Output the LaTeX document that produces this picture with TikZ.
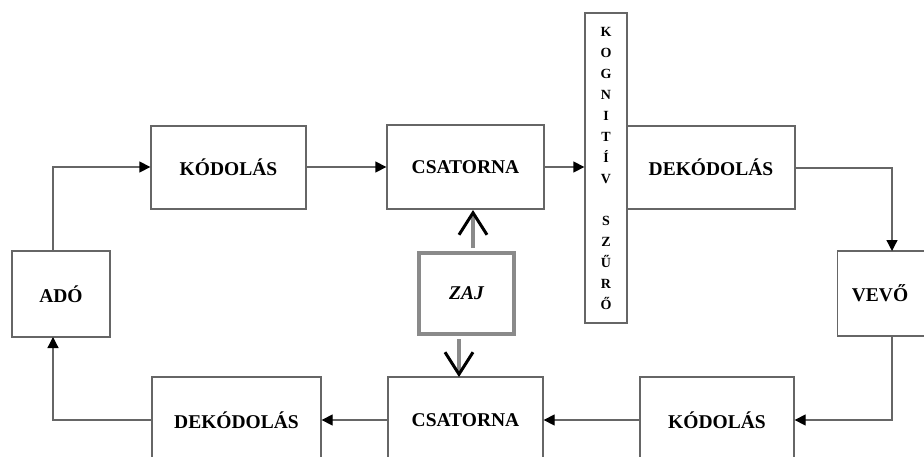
\documentclass[tikz,border=0pt]{standalone}
\usepackage{fontspec}
\setmainfont{Liberation Serif}
\usetikzlibrary{arrows.meta}
\definecolor{boxline}{HTML}{666666}
\definecolor{zajgray}{HTML}{8A8A8A}
\tikzset{
  blk/.style={draw=boxline, line width=1.3pt, fill=white, inner sep=0pt,
    font=\bfseries\fontsize{19.5}{21}\selectfont},
  conn/.style={draw=boxline, line width=1.3pt, -{Triangle[length=11pt,width=11pt,color=black]}},
  noise/.style={draw=zajgray, line width=4pt, -{Straight Barb[length=22pt,width=28pt,color=black,line width=3pt]}},
}
\begin{document}
\begin{tikzpicture}[x=1pt,y=-1pt]
\useasboundingbox (0,0) rectangle (924,456);
\fill[white] (0,0) rectangle (924,456);
\begin{scope}
\clip (0,0) rectangle (924,456);
% top row
\node[blk, minimum width=155pt, minimum height=83pt] (kod1) at (228.5,167.5) {KÓDOLÁS};
\node[blk, minimum width=157pt, minimum height=84pt] (csat1) at (465.5,167) {CSATORNA};
\node[blk, minimum width=168pt, minimum height=83pt] (dek1) at (711,167.5) {DEKÓDOLÁS};
\node[blk, minimum width=42pt, minimum height=310pt] (kog) at (606,168) {};
\node[font=\bfseries\fontsize{14}{21}\selectfont, align=center, inner sep=0pt] (kogtext) at (606,168)
  {K\\O\\G\\N\\I\\T\\Í\\V\\\strut\\S\\Z\\Ű\\R\\Ő};
% sides
\node[blk, minimum width=98pt, minimum height=86pt] (ado) at (61,294) {ADÓ};
\node[blk, minimum width=95pt, minimum height=85pt, anchor=west] (vevo) at (837,293.5) {};
\node[font=\bfseries\fontsize{19.5}{21}\selectfont] (vevotext) at (880,293.5) {VEVŐ};
% noise
\node[blk, draw=black!60, line width=0.8pt, double=zajgray, double distance=3.2pt,
  minimum width=95pt, minimum height=81pt,
  font=\bfseries\itshape\fontsize{19.5}{21}\selectfont] (zaj) at (466.5,293.5) {ZAJ};
% bottom row
\node[blk, minimum width=169pt, minimum height=86pt] (dek2) at (236.5,420) {DEKÓDOLÁS};
\node[blk, minimum width=155pt, minimum height=86pt] (csat2) at (465.5,420) {CSATORNA};
\node[blk, minimum width=154pt, minimum height=86pt] (kod2) at (717,420) {KÓDOLÁS};
% connectors
\coordinate (adotop) at (53,251);
\coordinate (adobot) at (53,337);
\coordinate (c1) at (53,167);
\coordinate (c2) at (53,420);
\coordinate (vtop) at (892,251);
\coordinate (vbot) at (892,336);
\coordinate (c3) at (892,168);
\coordinate (c4) at (892,420);
\coordinate (zu0) at (473,248);
\coordinate (zu1) at (473,210);
\coordinate (zd0) at (459,339);
\coordinate (zd1) at (459,377);
\draw[conn] (adotop) -- (c1) -- (kod1.west |- c1);
\draw[conn] (kod1.east |- c1) -- (csat1.west |- c1);
\draw[conn] (csat1.east |- c1) -- (kog.west |- c1);
\draw[conn] (dek1.east |- c3) -- (c3) -- (vtop);
\draw[conn] (vbot) -- (c4) -- (kod2.east |- c4);
\draw[conn] (kod2.west) -- (csat2.east);
\draw[conn] (csat2.west) -- (dek2.east);
\draw[conn] (dek2.west |- c2) -- (c2) -- (adobot);
\draw[noise] (zu0) -- (zu1);
\draw[noise] (zd0) -- (zd1);
\end{scope}
\end{tikzpicture}
\end{document}
